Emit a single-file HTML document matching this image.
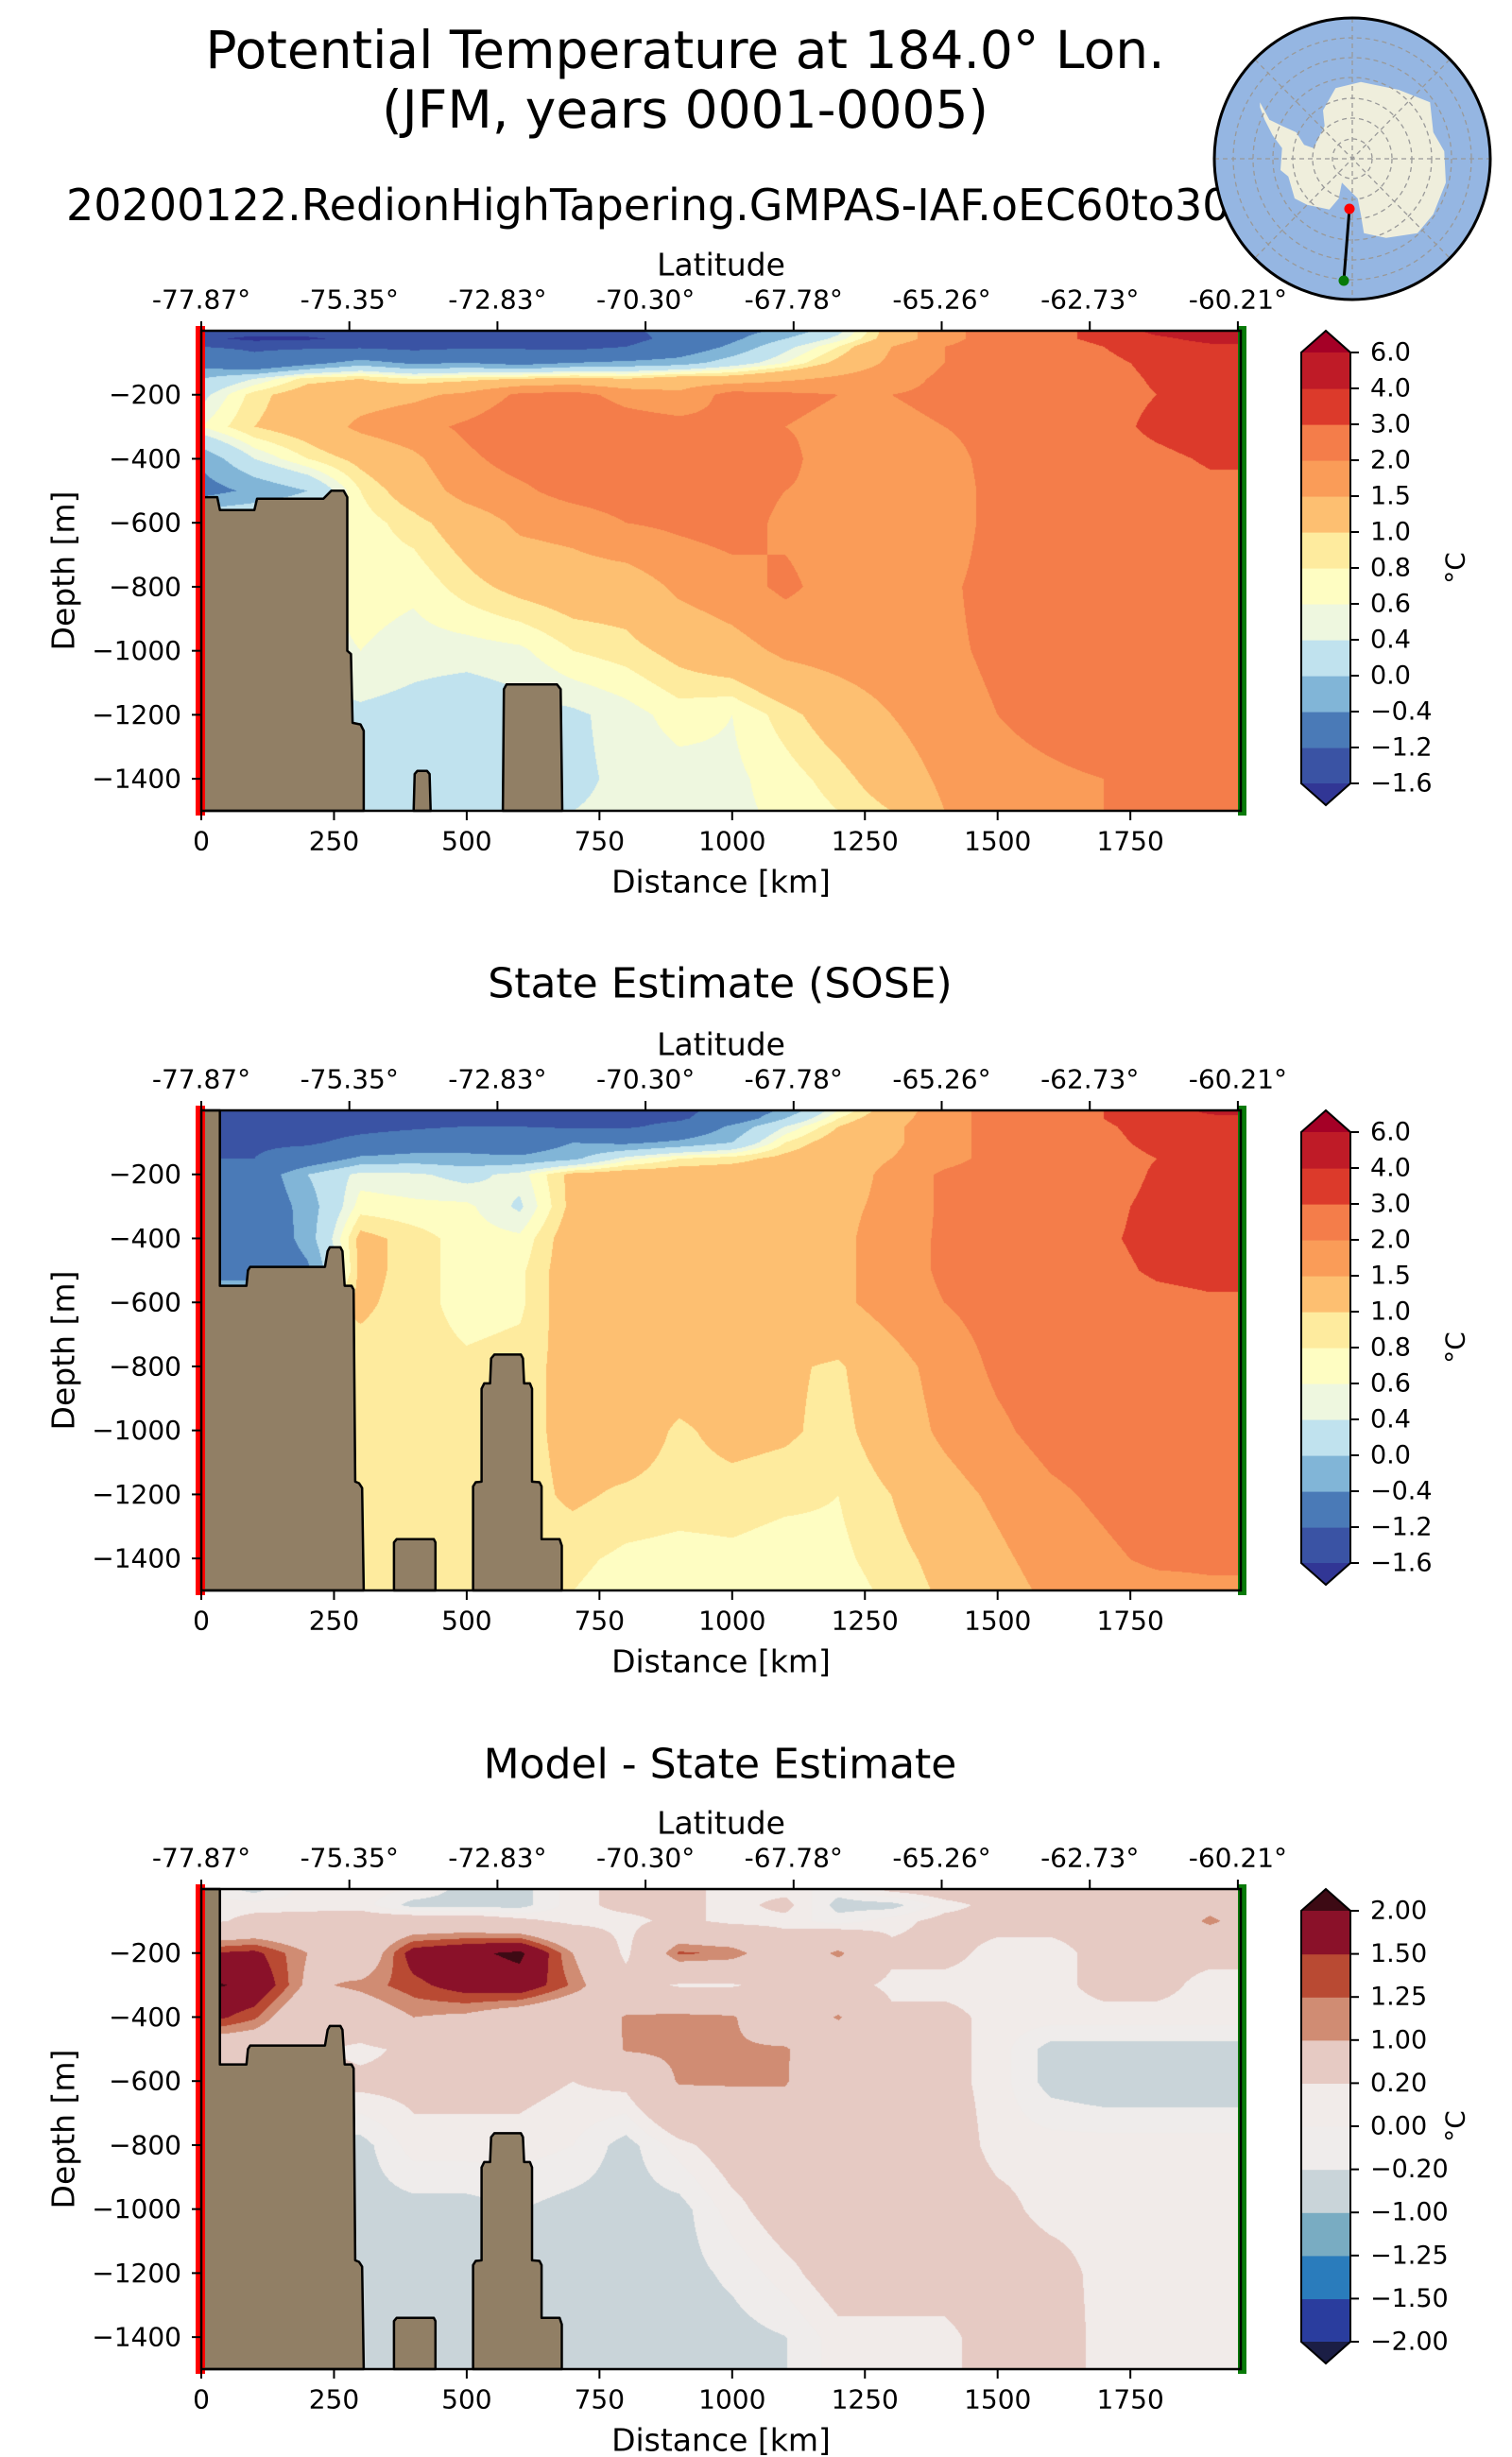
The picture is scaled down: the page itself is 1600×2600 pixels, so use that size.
<!DOCTYPE html>
<html><head><meta charset="utf-8">
<style>
html,body{margin:0;padding:0;background:#fff;}
#wrap{position:relative;width:1600px;height:2600px;overflow:hidden;font-family:"DejaVu Sans","Liberation Sans",sans-serif;}
canvas{position:absolute;}
svg{position:absolute;left:0;top:0;}
</style></head>
<body>
<div id="wrap">
<canvas id="c1" width="1100" height="508" style="left:213px;top:350px"></canvas>
<canvas id="c2" width="1100" height="509" style="left:213px;top:1175px"></canvas>
<canvas id="c3" width="1100" height="509" style="left:213px;top:1999px"></canvas>
<svg id="svg" width="1600" height="2600" viewBox="0 0 1600 2600" xmlns="http://www.w3.org/2000/svg">
<text x="725" y="53" font-size="55" text-anchor="middle" dominant-baseline="central">Potential Temperature at 184.0° Lon.</text>
<text x="725" y="116" font-size="55" text-anchor="middle" dominant-baseline="central">(JFM, years 0001-0005)</text>
<text x="70" y="217" font-size="46" dominant-baseline="central">20200122.RedionHighTapering.GMPAS-IAF.oEC60to30v3</text>
<text x="762" y="1041" font-size="44" text-anchor="middle" dominant-baseline="central">State Estimate (SOSE)</text>
<text x="762" y="1867" font-size="44" text-anchor="middle" dominant-baseline="central">Model - State Estimate</text>
<g id="globe">
<ellipse cx="1431" cy="168" rx="146" ry="149" fill="#95b6e2"/>
<polygon id="antarctica" fill="#efeedc" points=""/>
<g stroke="#999" stroke-width="1.3" stroke-dasharray="5,4" fill="none">
<ellipse cx="1431" cy="168" rx="21" ry="21"/><ellipse cx="1431" cy="168" rx="42" ry="43"/><ellipse cx="1431" cy="168" rx="63" ry="64"/><ellipse cx="1431" cy="168" rx="84" ry="86"/><ellipse cx="1431" cy="168" rx="105" ry="107"/><ellipse cx="1431" cy="168" rx="126" ry="128"/>
<line x1="1285" y1="168" x2="1577" y2="168"/><line x1="1431" y1="19" x2="1431" y2="317"/>
<line x1="1328" y1="63" x2="1534" y2="273"/><line x1="1534" y1="63" x2="1328" y2="273"/>
</g>
<line x1="1428" y1="221" x2="1422" y2="297" stroke="#000" stroke-width="3"/>
<circle cx="1428" cy="221" r="5.5" fill="#f00"/>
<circle cx="1422" cy="297" r="5.5" fill="#087a08"/>
<ellipse cx="1431" cy="168" rx="146" ry="149" fill="none" stroke="#000" stroke-width="3"/>
</g>
</svg>
</div>
<script>
// ---------- data ----------
const distCols = [0,100,200,300,400,500,600,700,800,900,1000,1100,1200,1300,1400,1500,1600,1700,1800,1900,2000];
const depthRows12 = [0,25,50,100,150,200,300,400,500,600,800,1000,1200,1400,1500];
const modelTemp = [
[-1.4,-1.4,-1.45,-1.4,-1.4,-1.45,-1.3,-1.45,-1.3,-1.0,-0.6,-0.3,0.3,1.2,1.8,2.3,2.8,3.2,4.3,4.5,4.5],
[-1.5,-1.7,-1.65,-1.5,-1.4,-1.4,-1.5,-1.6,-1.4,-1.0,-0.5,0.0,0.5,1.2,1.8,2.3,2.8,3.2,3.8,4.3,4.3],
[-1.2,-1.3,-1.3,-1.3,-1.4,-1.3,-1.3,-1.4,-1.2,-0.8,-0.3,0.3,0.8,1.5,2.0,2.3,2.6,3.0,3.5,3.8,3.8],
[-0.6,-1.0,-0.6,-0.2,-0.5,-0.4,-0.6,-0.4,-0.3,-0.2,0.2,0.6,1.1,1.6,2.0,2.3,2.5,2.8,3.2,3.5,3.5],
[0.0,0.4,0.9,1.0,0.8,0.9,1.0,1.1,1.0,1.2,1.2,1.4,1.6,1.8,2.1,2.3,2.5,2.7,3.1,3.3,3.3],
[0.3,0.9,1.2,1.3,1.4,1.6,2.1,2.2,1.8,1.6,2.2,2.1,2.0,2.0,2.1,2.3,2.5,2.7,3.0,3.3,3.3],
[0.6,1.0,1.2,1.6,1.8,2.1,2.4,2.5,2.3,2.2,2.1,2.0,1.9,1.9,2.0,2.2,2.5,2.7,3.2,3.5,3.5],
[-0.3,0.4,0.8,1.1,1.4,1.9,2.2,2.3,2.4,2.3,2.2,2.1,1.8,1.8,1.8,2.2,2.5,2.6,2.8,3.1,3.1],
[-0.6,-0.3,0.0,0.8,1.2,1.7,1.9,2.2,2.3,2.3,2.2,2.0,1.9,1.8,1.7,2.2,2.4,2.5,2.6,2.8,2.8],
[0.5,0.5,0.5,0.7,0.9,1.2,1.6,1.7,2.0,2.1,2.2,1.9,1.8,1.7,1.7,2.2,2.4,2.5,2.5,2.6,2.6],
[0.5,0.5,0.5,0.7,0.65,0.9,1.1,1.2,1.2,1.6,1.8,2.1,1.8,1.8,1.9,2.2,2.4,2.5,2.5,2.5,2.5],
[0.5,0.5,0.5,0.6,0.5,0.5,0.55,0.8,0.9,1.1,1.3,1.6,1.7,1.8,1.9,2.1,2.3,2.5,2.5,2.5,2.5],
[0.3,0.3,0.3,0.35,0.3,0.2,0.3,0.35,0.5,0.7,0.6,0.9,1.2,1.5,1.8,2.0,2.2,2.4,2.5,2.5,2.5],
[0.2,0.2,0.2,0.2,0.1,0.2,0.3,0.35,0.45,0.5,0.55,0.7,0.9,1.2,1.6,1.8,1.9,2.0,2.2,2.4,2.5],
[0.2,0.2,0.2,0.2,0.1,0.2,0.3,0.4,0.45,0.5,0.55,0.65,0.8,1.0,1.5,1.7,1.8,2.0,2.1,2.4,2.5]];
const soseTemp = [
[-1.3,-1.3,-1.4,-1.3,-1.3,-1.2,-1.3,-1.3,-1.4,-1.4,-0.9,-0.3,0.6,1.2,1.8,2.2,2.6,3.0,3.5,4.2,4.5],
[-1.3,-1.4,-1.4,-1.4,-1.3,-1.3,-1.3,-1.3,-1.4,-1.3,-0.8,0.0,0.8,1.3,1.8,2.2,2.6,3.0,3.5,3.8,3.8],
[-1.2,-1.3,-1.5,-1.4,-1.3,-1.2,-1.2,-1.3,-1.3,-1.0,-0.3,0.4,1.0,1.4,1.8,2.2,2.6,2.9,3.3,3.5,3.5],
[-1.2,-1.3,-1.3,-1.0,-0.8,-0.6,-0.8,-0.4,-0.5,-0.3,0.0,0.8,1.2,1.4,1.8,2.2,2.5,2.8,3.2,3.3,3.3],
[-1.2,-1.2,-0.8,-0.3,-0.2,-0.3,-0.3,-0.1,0.5,0.8,0.9,1.1,1.3,1.5,1.8,2.2,2.5,2.7,3.0,3.2,3.2],
[-0.8,-0.8,0.0,0.5,0.45,0.3,0.5,1.1,1.2,1.2,1.2,1.2,1.3,1.6,2.1,2.3,2.4,2.6,3.1,3.2,3.2],
[-0.9,-0.9,-0.2,0.7,0.65,0.65,0.35,1.1,1.2,1.2,1.2,1.3,1.4,1.6,2.1,2.3,2.5,2.8,3.2,3.3,3.3],
[-1.0,-1.0,-0.2,1.1,0.9,0.7,0.65,1.2,1.2,1.2,1.2,1.3,1.4,1.7,2.1,2.3,2.5,2.9,3.2,3.2,3.2],
[-1.0,-1.0,-0.5,1.1,0.9,0.7,0.75,1.2,1.2,1.2,1.2,1.3,1.4,1.7,2.1,2.3,2.6,2.8,3.1,3.2,3.2],
[0.9,0.9,0.9,1.05,0.9,0.7,0.75,1.2,1.2,1.2,1.2,1.3,1.4,1.7,2.0,2.2,2.4,2.6,2.8,2.9,2.9],
[0.9,0.9,0.9,0.9,0.9,0.85,0.9,1.1,1.2,1.2,1.2,1.05,0.95,1.3,1.7,2.1,2.3,2.4,2.5,2.5,2.5],
[0.9,0.9,0.9,0.9,0.9,0.9,0.9,1.1,1.2,0.95,1.1,1.05,0.9,1.2,1.6,1.9,2.2,2.3,2.4,2.3,2.3],
[0.9,0.9,0.9,0.9,0.9,0.9,0.9,1.05,0.95,0.9,0.9,0.85,0.8,1.0,1.3,1.6,1.9,2.1,2.3,2.2,2.2],
[0.9,0.9,0.9,0.9,0.9,0.9,0.9,0.85,0.75,0.72,0.75,0.7,0.75,0.9,1.1,1.4,1.7,1.9,2.1,2.1,2.1],
[0.9,0.9,0.9,0.9,0.9,0.9,0.9,0.8,0.7,0.7,0.7,0.65,0.7,0.85,1.05,1.3,1.6,1.7,1.8,1.9,1.9]];
const depthRows3 = [0,50,100,200,300,400,500,600,800,1000,1200,1400,1500];
const diffTemp = [
[0,-0.3,0.1,0.1,0.0,-0.3,-0.3,0.1,0.3,0.3,0.1,0.1,-0.1,0.3,0.4,0.4,0.3,0.3,0.3,0.3,0.3],
[0.1,0.1,0.1,0.1,-0.3,-0.3,-0.3,0.1,0.3,0.3,0.1,0.3,-0.3,-0.3,0.1,0.3,0.3,0.3,0.4,0.8,0.6],
[0.1,0.3,0.35,0.4,0.5,0.5,0.3,0.1,0.1,0.3,0.1,0.1,-0.1,0.1,0.3,0.3,0.3,0.3,0.5,1.1,0.6],
[1.5,1.6,1.0,0.5,1.7,1.9,2.1,1.0,0.1,1.3,1.2,0.5,1.1,0.3,0.3,0.1,0.1,0.3,0.3,0.3,0.3],
[2.1,1.9,0.9,1.1,1.4,1.7,1.8,1.2,0.4,0.15,0.15,0.4,0.4,0.1,0.1,0.1,0.1,0.3,0.3,0.1,0.1],
[1.7,1.3,0.4,0.6,1.0,0.9,0.6,0.4,1.05,1.1,1.05,0.5,1.05,0.3,0.3,0.1,0.1,0.1,0.1,0.1,0.1],
[0.5,0.5,0.3,0.1,0.3,0.3,0.3,0.3,1.05,1.1,1.05,1.05,0.5,0.3,0.3,0.1,-0.3,-0.3,-0.3,-0.3,-0.3],
[0.3,0.3,0.3,0.3,0.3,0.3,0.3,0.2,0.3,1.05,1.05,1.05,0.3,0.3,0.3,0.1,-0.3,-0.4,-0.4,-0.4,-0.4],
[-0.3,-0.3,-0.3,-0.3,0.1,0.1,0.1,0.0,-0.3,0.1,0.4,0.4,0.4,0.4,0.4,0.1,0.1,0.1,0.1,0.1,0.1],
[-0.3,-0.3,-0.3,-0.3,-0.3,-0.3,-0.2,-0.3,-0.3,-0.3,0.1,0.4,0.4,0.4,0.4,0.3,0.1,0.1,0.1,0.1,0.1],
[-0.3,-0.3,-0.3,-0.3,-0.3,-0.3,-0.3,-0.3,-0.3,-0.3,-0.15,0.1,0.4,0.4,0.4,0.4,0.35,0.1,0.1,0.1,0.1],
[-0.3,-0.3,-0.3,-0.3,-0.3,-0.3,-0.3,-0.3,-0.3,-0.3,-0.3,-0.21,0.1,0.1,0.1,0.4,0.4,0.1,0.1,0.1,0.1],
[-0.3,-0.3,-0.3,-0.3,-0.3,-0.3,-0.3,-0.3,-0.3,-0.3,-0.3,-0.21,0.1,0.1,0.1,0.4,0.4,0.1,0.1,0.1,0.1]];
const tempLevels = [-1.6,-1.2,-0.4,0,0.4,0.6,0.8,1.0,1.5,2.0,3.0,4.0,6.0];
const tempTickLabels = ["\u22121.6","\u22121.2","\u22120.4","0.0","0.4","0.6","0.8","1.0","1.5","2.0","3.0","4.0","6.0"];
const diffLevels = [-2,-1.5,-1.25,-1,-0.2,0,0.2,1,1.25,1.5,2];
const diffTickLabels = ["\u22122.00","\u22121.50","\u22121.25","\u22121.00","\u22120.20","0.00","0.20","1.00","1.25","1.50","2.00"];
const latTickLabels = ["-77.87°","-75.35°","-72.83°","-70.30°","-67.78°","-65.26°","-62.73°","-60.21°"];
const distTicks = [0,250,500,750,1000,1250,1500,1750];
const depthTicks = [200,400,600,800,1000,1200,1400];
const landModel = [[0,1500],[0,520],[30,520],[35,560],[100,560],[105,525],[230,525],[245,500],[268,500],[275,520],[275,1000],[282,1010],[285,1225],[300,1230],[306,1250],[306,1500]];
const bumpModel = [[400,1500],[402,1385],[407,1375],[425,1375],[430,1385],[432,1500]];
const blockModel = [[568,1500],[570,1120],[575,1105],[670,1105],[677,1120],[680,1500]];
const landSose = [[0,1500],[0,0],[35,0],[35,548],[85,548],[88,500],[92,489],[233,489],[238,440],[242,428],[262,428],[266,440],[270,548],[283,548],[287,560],[290,1160],[297,1165],[303,1180],[306,1500]];
const bumpSose = [[363,1500],[363,1350],[368,1340],[438,1340],[441,1350],[441,1500]];
const spireSose = [[512,1500],[512,1175],[517,1162],[528,1160],[528,870],[533,853],[544,853],[546,775],[552,763],[602,763],[606,775],[608,853],[619,853],[623,870],[623,1160],[637,1162],[641,1175],[641,1340],[675,1340],[679,1360],[679,1500]];
const tempColors = ["#313695","#3a53a4","#4a7ab7","#81b5d7","#c0e2ee","#eef7df","#fefdc2","#feeb9e","#fdbf71","#fa9c58","#f47d4a","#dc3a2b","#bf1b27","#a50026"];
const diffColors = ["#1b1e45","#2a3d9e","#2a7cbc","#79acc2","#c9d4d9","#efeceb","#f1ebe9","#e6cac3","#d08c73","#b94a33","#8a1129","#3d0a14"];

// ---------- geometry ----------
const AX_L=213, AX_W=1100, AX_H=508, DMAX=1958;
const panels=[{top:350,name:'model'},{top:1175,name:'sose'},{top:1999,name:'difference'}];
function X(d){return AX_L + d*AX_W/DMAX;}
function Yf(top){return z=>top + z*AX_H/1500;}
function hexToRgb(h){return [parseInt(h.slice(1,3),16),parseInt(h.slice(3,5),16),parseInt(h.slice(5,7),16)];}
function idx(arr,v){for(let i=0;i<arr.length-1;i++){if(v<=arr[i+1])return i;}return arr.length-2;}
function drawField(cid,grid,rows,levels,colors){
  const cv=document.getElementById(cid),ctx=cv.getContext('2d');
  const W=cv.width,H=cv.height,img=ctx.createImageData(W,H);
  const rgb=colors.map(hexToRgb);
  const xi=[],xt=[];
  for(let px=0;px<W;px++){const d=(px+0.5)*DMAX/AX_W;const i=idx(distCols,d);xi.push(i);xt.push((d-distCols[i])/(distCols[i+1]-distCols[i]));}
  for(let py=0;py<H;py++){
    const z=(py+0.5)*1500/H;const j=idx(rows,z);const t=Math.min(1,Math.max(0,(z-rows[j])/(rows[j+1]-rows[j])));
    for(let px=0;px<W;px++){
      const i=xi[px],s=xt[px];
      const v=(1-t)*((1-s)*grid[j][i]+s*grid[j][i+1])+t*((1-s)*grid[j+1][i]+s*grid[j+1][i+1]);
      let k=0;while(k<levels.length&&v>=levels[k])k++;
      const c=rgb[k];const o=(py*W+px)*4;
      img.data[o]=c[0];img.data[o+1]=c[1];img.data[o+2]=c[2];img.data[o+3]=255;
    }
  }
  ctx.putImageData(img,0,0);
}
drawField('c1',modelTemp,depthRows12,tempLevels,tempColors);
drawField('c2',soseTemp,depthRows12,tempLevels,tempColors);
drawField('c3',diffTemp,depthRows3,diffLevels,diffColors);

const NS='http://www.w3.org/2000/svg';
const svg=document.getElementById('svg');
function el(tag,attrs,parent){const e=document.createElementNS(NS,tag);for(const k in attrs)e.setAttribute(k,attrs[k]);(parent||svg).appendChild(e);return e;}

const antPts=[[160,325],[190,380],[230,400],[275,420],[300,460],[330,470],[350,430],[365,400],[360,350],[400,280],[480,260],[600,285],[700,325],[710,420],[745,480],[750,580],[710,680],[660,740],[560,755],[490,740],[480,680],[470,630],[440,600],[420,580],[410,630],[380,665],[310,650],[270,630],[250,560],[225,540],[230,470],[200,430],[175,380],[160,340]];
document.getElementById('antarctica').setAttribute('points',antPts.map(p=>(p[0]/3+1280).toFixed(1)+','+(p[1]/3).toFixed(1)).join(' '));
svg.appendChild(document.getElementById('globe'));

function drawPanel(p,lands,levels,colors,labels){
  const Y=Yf(p.top);
  const g=el('g',{});
  
  
  lands.forEach((poly,n)=>{
    const pg=el('polygon',{points:poly.map(q=>X(q[0]).toFixed(1)+','+Y(q[1]).toFixed(1)).join(' '),fill:'#917f65',stroke:'#000','stroke-width':2.5,'stroke-linejoin':'round'},g);
    
    
  });
  const rl=el('rect',{x:207,y:p.top-5,width:10,height:AX_H+10,fill:'#f00'},g);
  
  
  const gl=el('rect',{x:1310,y:p.top-5,width:9,height:AX_H+10,fill:'#087a08'},g);
  
  
  const fr=el('rect',{x:AX_L,y:p.top,width:AX_W,height:AX_H,fill:'none',stroke:'#000','stroke-width':2.5},g);
  
  
  distTicks.forEach(d=>{
    const x=X(d);
    el('line',{x1:x,y1:p.top+AX_H,x2:x,y2:p.top+AX_H+10,stroke:'#000','stroke-width':2},g);
    const t=el('text',{x:x,y:p.top+AX_H+32,'font-size':28,'text-anchor':'middle','dominant-baseline':'central'},g);
    t.textContent=String(d);
    
    
  });
  const xl=el('text',{x:763,y:p.top+AX_H+75,'font-size':33,'text-anchor':'middle','dominant-baseline':'central'},g);
  xl.textContent='Distance [km]';
  
  
  latTickLabels.forEach((s,i)=>{
    const x=AX_L+i*156.7;
    el('line',{x1:x,y1:p.top,x2:x,y2:p.top-10,stroke:'#000','stroke-width':2},g);
    const t=el('text',{x:x,y:p.top-33,'font-size':28,'text-anchor':'middle','dominant-baseline':'central'},g);
    t.textContent=s;
    
    
  });
  const ll=el('text',{x:763,y:p.top-70,'font-size':33,'text-anchor':'middle','dominant-baseline':'central'},g);
  ll.textContent='Latitude';
  
  
  depthTicks.forEach(z=>{
    const y=Y(z);
    el('line',{x1:AX_L,y1:y,x2:AX_L-10,y2:y,stroke:'#000','stroke-width':2},g);
    const t=el('text',{x:192,y:y,'font-size':28,'text-anchor':'end','dominant-baseline':'central'},g);
    t.textContent='\u2212'+z;
    
    
  });
  const yl=el('text',{x:67,y:p.top+AX_H/2,'font-size':33,'text-anchor':'middle','dominant-baseline':'central',transform:'rotate(-90 67 '+(p.top+AX_H/2)+')'},g);
  yl.textContent='Depth [m]';
  
  
  const cb=el('g',{},g);
  
  
  const cx0=1377,cx1=1429,ct=p.top+23,cbm=p.top+479;
  const n=levels.length-1,bh=(cbm-ct)/n;
  for(let k=0;k<n;k++){
    const r=el('rect',{x:cx0,y:cbm-(k+1)*bh,width:cx1-cx0,height:bh+0.6,fill:colors[k+1]},cb);
    
    
  }
  el('polygon',{points:`${cx0},${ct} ${(cx0+cx1)/2},${p.top} ${cx1},${ct}`,fill:colors[colors.length-1]},cb);
  el('polygon',{points:`${cx0},${cbm} ${(cx0+cx1)/2},${cbm+23} ${cx1},${cbm}`,fill:colors[0]},cb);
  el('polygon',{points:`${cx0},${ct} ${(cx0+cx1)/2},${p.top} ${cx1},${ct} ${cx1},${cbm} ${(cx0+cx1)/2},${cbm+23} ${cx0},${cbm}`,fill:'none',stroke:'#000','stroke-width':2},cb);
  labels.forEach((s,k)=>{
    const y=cbm-k*bh;
    el('line',{x1:cx1,y1:y,x2:cx1+9,y2:y,stroke:'#000','stroke-width':2},cb);
    const t=el('text',{x:1450,y:y,'font-size':27,'dominant-baseline':'central'},cb);
    t.textContent=s;
    
    
  });
  const u=el('text',{x:1540,y:(ct+cbm)/2,'font-size':28,'text-anchor':'middle','dominant-baseline':'central',transform:`rotate(-90 1540 ${(ct+cbm)/2})`},cb);
  u.textContent='°C';
  
  
}
drawPanel(panels[0],[landModel,bumpModel,blockModel],tempLevels,tempColors,tempTickLabels);
drawPanel(panels[1],[landSose,bumpSose,spireSose],tempLevels,tempColors,tempTickLabels);
drawPanel(panels[2],[landSose,bumpSose,spireSose],diffLevels,diffColors,diffTickLabels);
</script>
</body></html>
